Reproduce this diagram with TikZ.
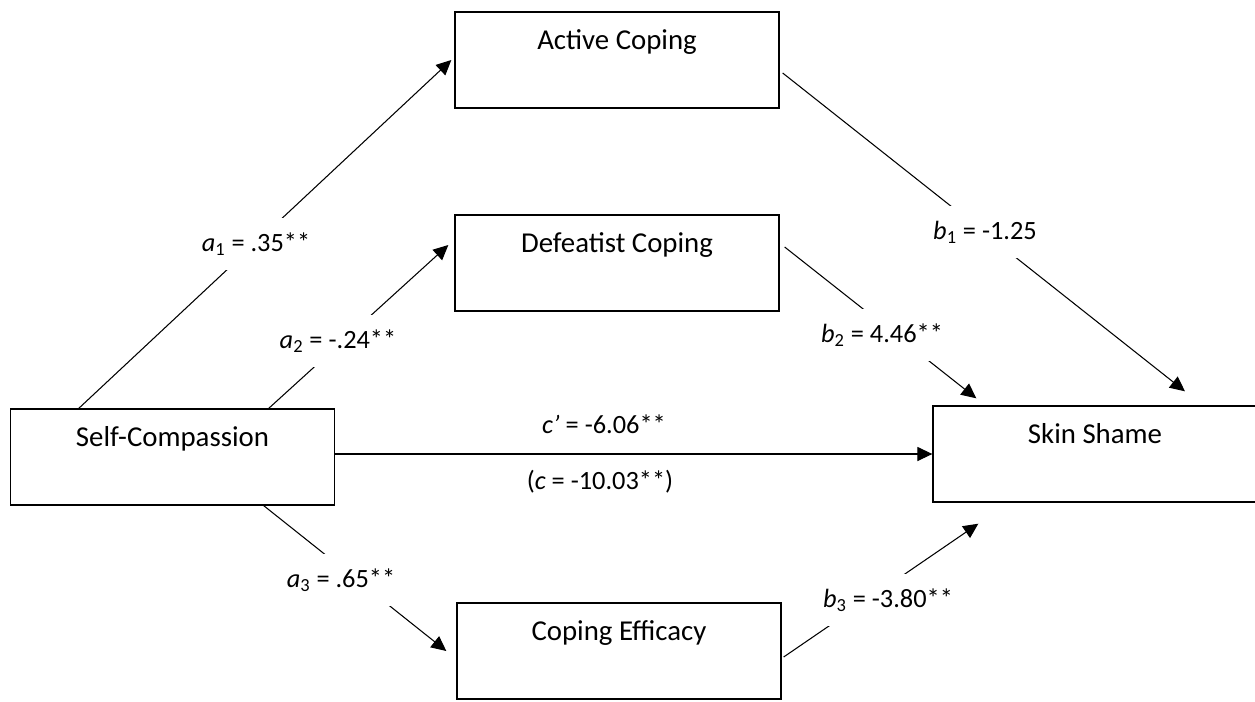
\documentclass[tikz,border=0pt]{standalone}
\usepackage{fontspec}
\setmainfont{Carlito}
\usetikzlibrary{arrows.meta}
\begin{document}
\begin{tikzpicture}[x=0.02cm,y=-0.02cm,
  box/.style={draw, line width=0.8pt, minimum width=6.48cm, minimum height=1.92cm,
    inner sep=0pt, text height=0.74cm, text depth=1.18cm,
    font=\fontsize{16.4}{19}\selectfont},
  lab/.style={fill=white, inner xsep=2pt, inner ysep=0pt, minimum height=1.04cm,
    font=\fontsize{15}{18}\selectfont},
  plainlab/.style={inner sep=1pt, font=\fontsize{15}{18}\selectfont},
  arr/.style={line width=0.6pt, -{Triangle[length=8.5pt,width=8pt]}}]
\useasboundingbox (0,0) rectangle (1255,701);
% boxes
\node[box] (sc) at (172.5,457) {Self-Compassion};
\node[box] (ac) at (617,60) {Active Coping};
\node[box] (df) at (617,263) {Defeatist Coping};
\node[box] (ss) at (1095,454) {Skin Shame};
\node[box] (ce) at (619,651) {Coping Efficacy};
% connectors
\draw[arr] ([xshift=1.38cm]sc.north west) -- ([xshift=-0.06cm]ac.west);
\draw[arr] ([xshift=5.18cm]sc.north west) -- ([xshift=-0.12cm,yshift=0.36cm]df.west);
\draw[arr] ([xshift=5.08cm]sc.south west) -- ([xshift=-0.2cm]ce.west);
\draw[arr] ([xshift=0.06cm,yshift=-0.26cm]ac.east) -- ([xshift=1.8cm,yshift=0.28cm]ss.north);
\draw[arr] ([xshift=0.1cm,yshift=0.32cm]df.east) -- ([xshift=0.88cm,yshift=0.14cm]ss.north west);
\draw[arr] (sc.east |- ss.west) -- (ss.west);
\draw[arr] ([xshift=0.04cm,yshift=-0.12cm]ce.east) -- ([xshift=0.92cm,yshift=-0.42cm]ss.south west);
% labels
\node[lab] (la1) at (256,244) {\textit{a}\textsubscript{1} = .35**};
\node[lab] (la2) at (338,341) {\textit{a}\textsubscript{2} = -.24**};
\node[lab] (la3) at (341,580) {\textit{a}\textsubscript{3} = .65**};
\node[lab] (lb1) at (985,232) {\textit{b}\textsubscript{1} = -1.25};
\node[lab] (lb2) at (882,335) {\textit{b}\textsubscript{2} = 4.46**};
\node[lab] (lb3) at (888,600) {\textit{b}\textsubscript{3} = -3.80**};
\node[plainlab] (lc1) at (604,424) {\textit{c’} = -6.06**};
\node[plainlab] (lc2) at (600,482) {(\textit{c} = -10.03**)};
\end{tikzpicture}
\end{document}
